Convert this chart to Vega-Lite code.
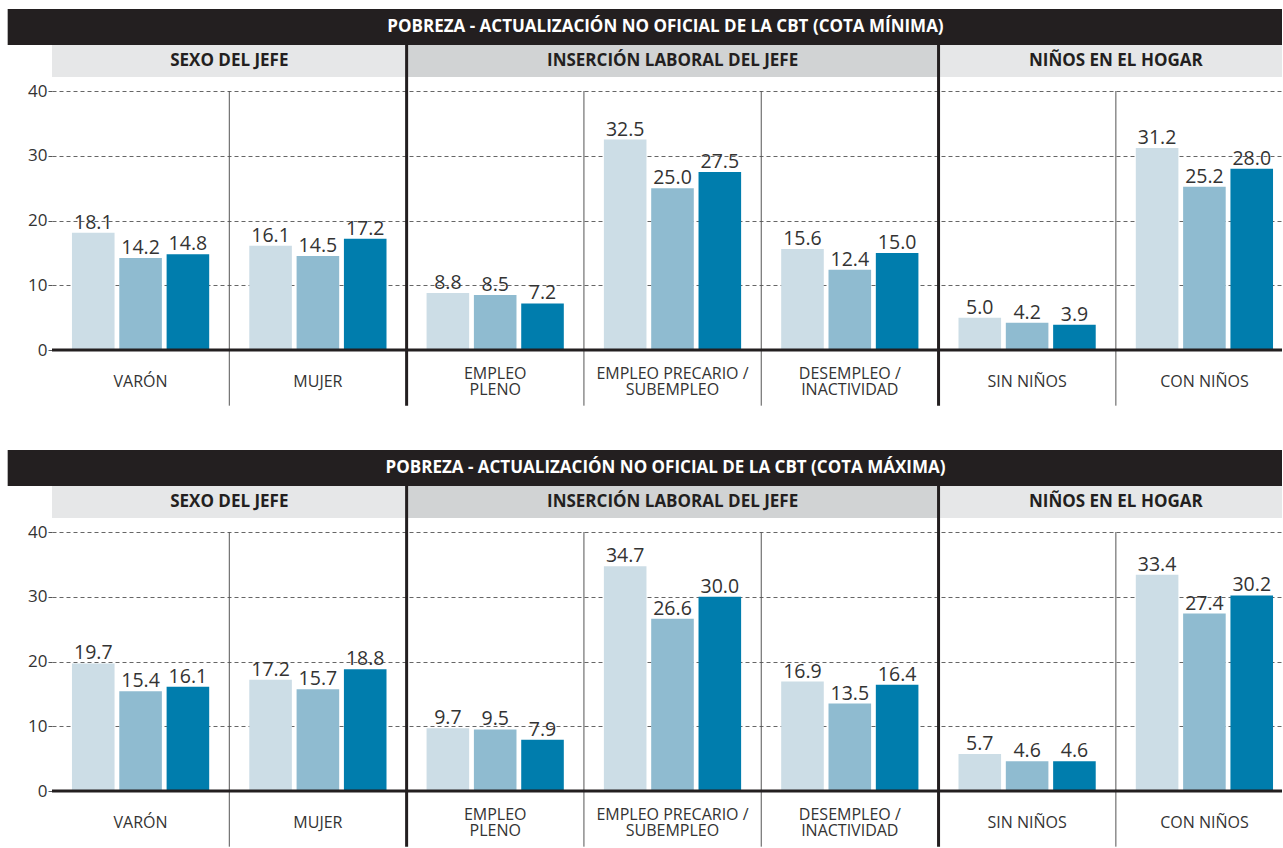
{
  "$schema": "https://vega.github.io/schema/vega-lite/v6.json",
  "padding": {"left": 7, "top": 9, "right": 0, "bottom": 0},
  "autosize": {"type": "pad"},
  "spacing": 42,
  "config": {
    "font": "Open Sans",
    "view": {"stroke": null},
    "axis": {"labelFont": "Open Sans"}
  },
  "datasets": {
    "minima": [
      {"cat": "VARÓN", "serie": "Serie 1", "valor": 18.1},
      {"cat": "VARÓN", "serie": "Serie 2", "valor": 14.2},
      {"cat": "VARÓN", "serie": "Serie 3", "valor": 14.8},
      {"cat": "MUJER", "serie": "Serie 1", "valor": 16.1},
      {"cat": "MUJER", "serie": "Serie 2", "valor": 14.5},
      {"cat": "MUJER", "serie": "Serie 3", "valor": 17.2},
      {"cat": "EMPLEO|PLENO", "serie": "Serie 1", "valor": 8.8},
      {"cat": "EMPLEO|PLENO", "serie": "Serie 2", "valor": 8.5},
      {"cat": "EMPLEO|PLENO", "serie": "Serie 3", "valor": 7.2},
      {"cat": "EMPLEO PRECARIO /|SUBEMPLEO", "serie": "Serie 1", "valor": 32.5},
      {"cat": "EMPLEO PRECARIO /|SUBEMPLEO", "serie": "Serie 2", "valor": 25.0},
      {"cat": "EMPLEO PRECARIO /|SUBEMPLEO", "serie": "Serie 3", "valor": 27.5},
      {"cat": "DESEMPLEO /|INACTIVIDAD", "serie": "Serie 1", "valor": 15.6},
      {"cat": "DESEMPLEO /|INACTIVIDAD", "serie": "Serie 2", "valor": 12.4},
      {"cat": "DESEMPLEO /|INACTIVIDAD", "serie": "Serie 3", "valor": 15.0},
      {"cat": "SIN NIÑOS", "serie": "Serie 1", "valor": 5.0},
      {"cat": "SIN NIÑOS", "serie": "Serie 2", "valor": 4.2},
      {"cat": "SIN NIÑOS", "serie": "Serie 3", "valor": 3.9},
      {"cat": "CON NIÑOS", "serie": "Serie 1", "valor": 31.2},
      {"cat": "CON NIÑOS", "serie": "Serie 2", "valor": 25.2},
      {"cat": "CON NIÑOS", "serie": "Serie 3", "valor": 28.0}
    ],
    "maxima": [
      {"cat": "VARÓN", "serie": "Serie 1", "valor": 19.7},
      {"cat": "VARÓN", "serie": "Serie 2", "valor": 15.4},
      {"cat": "VARÓN", "serie": "Serie 3", "valor": 16.1},
      {"cat": "MUJER", "serie": "Serie 1", "valor": 17.2},
      {"cat": "MUJER", "serie": "Serie 2", "valor": 15.7},
      {"cat": "MUJER", "serie": "Serie 3", "valor": 18.8},
      {"cat": "EMPLEO|PLENO", "serie": "Serie 1", "valor": 9.7},
      {"cat": "EMPLEO|PLENO", "serie": "Serie 2", "valor": 9.5},
      {"cat": "EMPLEO|PLENO", "serie": "Serie 3", "valor": 7.9},
      {"cat": "EMPLEO PRECARIO /|SUBEMPLEO", "serie": "Serie 1", "valor": 34.7},
      {"cat": "EMPLEO PRECARIO /|SUBEMPLEO", "serie": "Serie 2", "valor": 26.6},
      {"cat": "EMPLEO PRECARIO /|SUBEMPLEO", "serie": "Serie 3", "valor": 30.0},
      {"cat": "DESEMPLEO /|INACTIVIDAD", "serie": "Serie 1", "valor": 16.9},
      {"cat": "DESEMPLEO /|INACTIVIDAD", "serie": "Serie 2", "valor": 13.5},
      {"cat": "DESEMPLEO /|INACTIVIDAD", "serie": "Serie 3", "valor": 16.4},
      {"cat": "SIN NIÑOS", "serie": "Serie 1", "valor": 5.7},
      {"cat": "SIN NIÑOS", "serie": "Serie 2", "valor": 4.6},
      {"cat": "SIN NIÑOS", "serie": "Serie 3", "valor": 4.6},
      {"cat": "CON NIÑOS", "serie": "Serie 1", "valor": 33.4},
      {"cat": "CON NIÑOS", "serie": "Serie 2", "valor": 27.4},
      {"cat": "CON NIÑOS", "serie": "Serie 3", "valor": 30.2}
    ],
    "grupos": [
      {"grupo": "SEXO DEL JEFE", "inicio": 0, "fin": 2, "tono": "claro"},
      {"grupo": "INSERCIÓN LABORAL DEL JEFE", "inicio": 2, "fin": 5, "tono": "oscuro"},
      {"grupo": "NIÑOS EN EL HOGAR", "inicio": 5, "fin": 7, "tono": "claro"}
    ],
    "divisiones": [
      {"borde": 1, "tipo": "categoría"},
      {"borde": 2, "tipo": "grupo"},
      {"borde": 3, "tipo": "categoría"},
      {"borde": 4, "tipo": "categoría"},
      {"borde": 5, "tipo": "grupo"},
      {"borde": 6, "tipo": "categoría"}
    ]
  },
  "vconcat": [
    {
      "width": 1230,
      "height": 259,
      "resolve": {"scale": {"x": "independent"}},
      "layer": [
        {
          "data": {"values": [{"titulo": "POBREZA -  ACTUALIZACIÓN NO OFICIAL DE LA CBT (COTA MÍNIMA)"}]},
          "layer": [
            {
              "mark": {"type": "rect", "color": "#231f20"},
              "encoding": {
                "x": {"datum": -0.25, "type": "quantitative", "scale": {"domain": [0, 6.937], "nice": false, "zero": false}, "axis": null},
                "x2": {"datum": 6.937},
                "y": {"datum": 47.1, "type": "quantitative", "scale": {"domain": [0, 40], "nice": false}},
                "y2": {"datum": 52.66}
              }
            },
            {
              "mark": {"type": "text", "color": "#ffffff", "fontWeight": "bold", "fontSize": 17, "baseline": "middle", "align": "center"},
              "encoding": {
                "x": {"datum": 3.46, "type": "quantitative"},
                "y": {"datum": 49.9, "type": "quantitative"},
                "text": {"field": "titulo"}
              }
            }
          ]
        },
        {
          "layer": [
            {
              "data": {"name": "grupos"},
              "mark": {"type": "rect"},
              "encoding": {
                "x": {"field": "inicio", "type": "quantitative", "scale": {"domain": [0, 6.937], "nice": false, "zero": false, "clamp": true}, "axis": null},
                "x2": {"field": "fin"},
                "y": {"datum": 42.16, "type": "quantitative"},
                "y2": {"datum": 47.1},
                "fill": {"field": "tono", "type": "nominal", "scale": {"domain": ["claro", "oscuro"], "range": ["#e6e7e8", "#d1d3d4"]}, "legend": null}
              }
            },
            {
              "data": {"name": "grupos"},
              "transform": [{"fold": ["inicio", "fin"], "as": ["k", "borde"]}],
              "mark": {"type": "text", "color": "#231f20", "fontWeight": "bold", "fontSize": 17, "baseline": "middle", "align": "center"},
              "encoding": {
                "x": {"aggregate": "mean", "field": "borde", "type": "quantitative"},
                "y": {"datum": 44.63, "type": "quantitative"},
                "text": {"field": "grupo", "type": "nominal"}
              }
            },
            {
              "data": {"name": "divisiones"},
              "transform": [{"filter": "datum.tipo === 'categoría'"}],
              "mark": {"type": "rule", "color": "#555555", "strokeWidth": 1},
              "encoding": {
                "x": {"field": "borde", "type": "quantitative"},
                "y": {"datum": 40, "type": "quantitative"},
                "y2": {"datum": -8.6}
              }
            },
            {
              "data": {"name": "divisiones"},
              "transform": [{"filter": "datum.tipo === 'grupo'"}],
              "mark": {"type": "rule", "color": "#231f20", "strokeWidth": 3},
              "encoding": {
                "x": {"field": "borde", "type": "quantitative"},
                "y": {"datum": 47.1, "type": "quantitative"},
                "y2": {"datum": -8.6}
              }
            }
          ]
        },
        {
          "data": {"name": "minima"},
          "layer": [
            {
              "mark": {"type": "bar"},
              "encoding": {
                "x": {"field": "cat", "type": "nominal", "sort": null, "scale": {"paddingInner": 0.226, "paddingOuter": 0.0816, "align": 0.69}, "axis": null},
                "xOffset": {"field": "serie", "type": "nominal", "sort": null, "scale": {"paddingInner": 0.1}},
                "y": {"field": "valor", "type": "quantitative", "scale": {"domain": [0, 40], "nice": false},
                  "axis": {"values": [0, 10, 20, 30, 40], "title": null, "grid": true, "gridDash": [4, 3], "gridColor": "#555555", "gridWidth": 0.9, "domain": false, "tickSize": 4, "tickColor": "#555555", "labelFontSize": 17, "labelColor": "#333333", "labelPadding": 1}},
                "color": {"field": "serie", "type": "nominal", "sort": null, "scale": {"range": ["#ccdde6", "#8fbbd0", "#007dad"]}, "legend": null}
              }
            },
            {
              "mark": {"type": "text", "baseline": "bottom", "align": "center", "fontSize": 19.5, "color": "#333333", "dy": 0},
              "encoding": {
                "x": {"field": "cat", "type": "nominal", "sort": null},
                "xOffset": {"field": "serie", "type": "nominal", "sort": null},
                "y": {"field": "valor", "type": "quantitative"},
                "text": {"field": "valor", "type": "quantitative", "format": ".1f"}
              }
            },
            {
              "transform": [{"filter": "datum.serie === 'Serie 1' && indexof(datum.cat, '|') < 0"}],
              "mark": {"type": "text", "baseline": "middle", "align": "center", "fontSize": 16, "color": "#333333"},
              "encoding": {
                "x": {"field": "cat", "type": "nominal", "sort": null},
                "y": {"datum": -4.94, "type": "quantitative"},
                "text": {"field": "cat", "type": "nominal"}
              }
            },
            {
              "transform": [{"filter": "datum.serie === 'Serie 1' && indexof(datum.cat, '|') >= 0"}],
              "mark": {"type": "text", "baseline": "middle", "align": "center", "fontSize": 16, "lineHeight": 16.5, "lineBreak": "|", "color": "#333333"},
              "encoding": {
                "x": {"field": "cat", "type": "nominal", "sort": null},
                "y": {"datum": -3.65, "type": "quantitative"},
                "text": {"field": "cat", "type": "nominal"}
              }
            }
          ]
        },
        {
          "data": {"values": [{"linea": "base"}]},
          "mark": {"type": "rule", "color": "#231f20", "strokeWidth": 3},
          "encoding": {
            "x": {"datum": 0, "type": "quantitative", "scale": {"domain": [0, 6.937], "nice": false, "zero": false}, "axis": null},
            "x2": {"datum": 6.937},
            "y": {"datum": 0, "type": "quantitative"}
          }
        }
      ]
    },
    {
      "width": 1230,
      "height": 259,
      "resolve": {"scale": {"x": "independent"}},
      "layer": [
        {
          "data": {"values": [{"titulo": "POBREZA - ACTUALIZACIÓN NO OFICIAL DE LA CBT (COTA MÁXIMA)"}]},
          "layer": [
            {
              "mark": {"type": "rect", "color": "#231f20"},
              "encoding": {
                "x": {"datum": -0.25, "type": "quantitative", "scale": {"domain": [0, 6.937], "nice": false, "zero": false}, "axis": null},
                "x2": {"datum": 6.937},
                "y": {"datum": 47.1, "type": "quantitative", "scale": {"domain": [0, 40], "nice": false}},
                "y2": {"datum": 52.66}
              }
            },
            {
              "mark": {"type": "text", "color": "#ffffff", "fontWeight": "bold", "fontSize": 17, "baseline": "middle", "align": "center"},
              "encoding": {
                "x": {"datum": 3.46, "type": "quantitative"},
                "y": {"datum": 49.9, "type": "quantitative"},
                "text": {"field": "titulo"}
              }
            }
          ]
        },
        {
          "layer": [
            {
              "data": {"name": "grupos"},
              "mark": {"type": "rect"},
              "encoding": {
                "x": {"field": "inicio", "type": "quantitative", "scale": {"domain": [0, 6.937], "nice": false, "zero": false, "clamp": true}, "axis": null},
                "x2": {"field": "fin"},
                "y": {"datum": 42.16, "type": "quantitative"},
                "y2": {"datum": 47.1},
                "fill": {"field": "tono", "type": "nominal", "scale": {"domain": ["claro", "oscuro"], "range": ["#e6e7e8", "#d1d3d4"]}, "legend": null}
              }
            },
            {
              "data": {"name": "grupos"},
              "transform": [{"fold": ["inicio", "fin"], "as": ["k", "borde"]}],
              "mark": {"type": "text", "color": "#231f20", "fontWeight": "bold", "fontSize": 17, "baseline": "middle", "align": "center"},
              "encoding": {
                "x": {"aggregate": "mean", "field": "borde", "type": "quantitative"},
                "y": {"datum": 44.63, "type": "quantitative"},
                "text": {"field": "grupo", "type": "nominal"}
              }
            },
            {
              "data": {"name": "divisiones"},
              "transform": [{"filter": "datum.tipo === 'categoría'"}],
              "mark": {"type": "rule", "color": "#555555", "strokeWidth": 1},
              "encoding": {
                "x": {"field": "borde", "type": "quantitative"},
                "y": {"datum": 40, "type": "quantitative"},
                "y2": {"datum": -8.6}
              }
            },
            {
              "data": {"name": "divisiones"},
              "transform": [{"filter": "datum.tipo === 'grupo'"}],
              "mark": {"type": "rule", "color": "#231f20", "strokeWidth": 3},
              "encoding": {
                "x": {"field": "borde", "type": "quantitative"},
                "y": {"datum": 47.1, "type": "quantitative"},
                "y2": {"datum": -8.6}
              }
            }
          ]
        },
        {
          "data": {"name": "maxima"},
          "layer": [
            {
              "mark": {"type": "bar"},
              "encoding": {
                "x": {"field": "cat", "type": "nominal", "sort": null, "scale": {"paddingInner": 0.226, "paddingOuter": 0.0816, "align": 0.69}, "axis": null},
                "xOffset": {"field": "serie", "type": "nominal", "sort": null, "scale": {"paddingInner": 0.1}},
                "y": {"field": "valor", "type": "quantitative", "scale": {"domain": [0, 40], "nice": false},
                  "axis": {"values": [0, 10, 20, 30, 40], "title": null, "grid": true, "gridDash": [4, 3], "gridColor": "#555555", "gridWidth": 0.9, "domain": false, "tickSize": 4, "tickColor": "#555555", "labelFontSize": 17, "labelColor": "#333333", "labelPadding": 1}},
                "color": {"field": "serie", "type": "nominal", "sort": null, "scale": {"range": ["#ccdde6", "#8fbbd0", "#007dad"]}, "legend": null}
              }
            },
            {
              "mark": {"type": "text", "baseline": "bottom", "align": "center", "fontSize": 19.5, "color": "#333333", "dy": 0},
              "encoding": {
                "x": {"field": "cat", "type": "nominal", "sort": null},
                "xOffset": {"field": "serie", "type": "nominal", "sort": null},
                "y": {"field": "valor", "type": "quantitative"},
                "text": {"field": "valor", "type": "quantitative", "format": ".1f"}
              }
            },
            {
              "transform": [{"filter": "datum.serie === 'Serie 1' && indexof(datum.cat, '|') < 0"}],
              "mark": {"type": "text", "baseline": "middle", "align": "center", "fontSize": 16, "color": "#333333"},
              "encoding": {
                "x": {"field": "cat", "type": "nominal", "sort": null},
                "y": {"datum": -4.94, "type": "quantitative"},
                "text": {"field": "cat", "type": "nominal"}
              }
            },
            {
              "transform": [{"filter": "datum.serie === 'Serie 1' && indexof(datum.cat, '|') >= 0"}],
              "mark": {"type": "text", "baseline": "middle", "align": "center", "fontSize": 16, "lineHeight": 16.5, "lineBreak": "|", "color": "#333333"},
              "encoding": {
                "x": {"field": "cat", "type": "nominal", "sort": null},
                "y": {"datum": -3.65, "type": "quantitative"},
                "text": {"field": "cat", "type": "nominal"}
              }
            }
          ]
        },
        {
          "data": {"values": [{"linea": "base"}]},
          "mark": {"type": "rule", "color": "#231f20", "strokeWidth": 3},
          "encoding": {
            "x": {"datum": 0, "type": "quantitative", "scale": {"domain": [0, 6.937], "nice": false, "zero": false}, "axis": null},
            "x2": {"datum": 6.937},
            "y": {"datum": 0, "type": "quantitative"}
          }
        }
      ]
    }
  ]
}
